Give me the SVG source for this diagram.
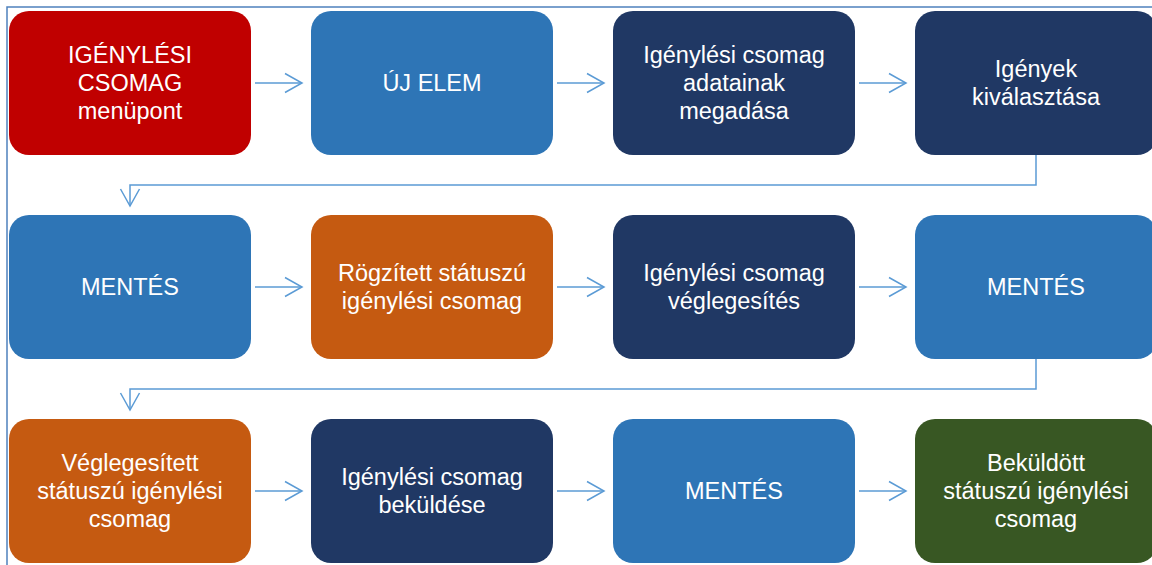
<svg xmlns="http://www.w3.org/2000/svg" width="1152" height="565" viewBox="0 0 1152 565">
<defs>
<style>
.box{stroke:none}
.red{fill:#C00000}
.blue{fill:#2E75B6}
.navy{fill:#203864}
.orange{fill:#C55A11}
.green{fill:#385723}
.t{font-family:"Liberation Sans",Arial,sans-serif;font-size:23.5px;fill:#FFFFFF;text-anchor:middle}
.c{fill:none;stroke:#5B9BD5;stroke-width:1.5}
.frame{fill:none;stroke:#4F81BD;stroke-width:1.5}
</style>
<marker id="ah" markerUnits="userSpaceOnUse" markerWidth="20" markerHeight="24" refX="18" refY="11" orient="auto">
<path d="M1,1.5 L18,11 L1,20.5" fill="none" stroke="#5B9BD5" stroke-width="1.5"/>
</marker>
</defs>
<rect x="0" y="0" width="1152" height="565" fill="#FFFFFF"/>
<path class="frame" d="M7,570 L7,7 L1160,7"/>
<g id="connectors">
<line class="c" x1="255" y1="83" x2="302" y2="83" marker-end="url(#ah)"/>
<line class="c" x1="557" y1="83" x2="604" y2="83" marker-end="url(#ah)"/>
<line class="c" x1="859" y1="83" x2="906" y2="83" marker-end="url(#ah)"/>
<path class="c" d="M1036,155 L1036,185 L130,185 L130,206" marker-end="url(#ah)"/>
<line class="c" x1="255" y1="287" x2="302" y2="287" marker-end="url(#ah)"/>
<line class="c" x1="557" y1="287" x2="604" y2="287" marker-end="url(#ah)"/>
<line class="c" x1="859" y1="287" x2="906" y2="287" marker-end="url(#ah)"/>
<path class="c" d="M1036,359 L1036,389 L130,389 L130,410" marker-end="url(#ah)"/>
<line class="c" x1="255" y1="491" x2="302" y2="491" marker-end="url(#ah)"/>
<line class="c" x1="557" y1="491" x2="604" y2="491" marker-end="url(#ah)"/>
<line class="c" x1="859" y1="491" x2="906" y2="491" marker-end="url(#ah)"/>
</g>
<g id="n1"><rect class="box red" x="9" y="11" width="242" height="144" rx="20"/><text class="t" x="130" y="63">IGÉNYLÉSI</text><text class="t" x="130" y="91">CSOMAG</text><text class="t" x="130" y="119">menüpont</text></g>
<g id="n2"><rect class="box blue" x="311" y="11" width="242" height="144" rx="20"/><text class="t" x="432" y="91">ÚJ ELEM</text></g>
<g id="n3"><rect class="box navy" x="613" y="11" width="242" height="144" rx="20"/><text class="t" x="734" y="63">Igénylési csomag</text><text class="t" x="734" y="91">adatainak</text><text class="t" x="734" y="119">megadása</text></g>
<g id="n4"><rect class="box navy" x="915" y="11" width="242" height="144" rx="20"/><text class="t" x="1036" y="77">Igények</text><text class="t" x="1036" y="105">kiválasztása</text></g>
<g id="n5"><rect class="box blue" x="9" y="215" width="242" height="144" rx="20"/><text class="t" x="130" y="295">MENTÉS</text></g>
<g id="n6"><rect class="box orange" x="311" y="215" width="242" height="144" rx="20"/><text class="t" x="432" y="281">Rögzített státuszú</text><text class="t" x="432" y="309">igénylési csomag</text></g>
<g id="n7"><rect class="box navy" x="613" y="215" width="242" height="144" rx="20"/><text class="t" x="734" y="281">Igénylési csomag</text><text class="t" x="734" y="309">véglegesítés</text></g>
<g id="n8"><rect class="box blue" x="915" y="215" width="242" height="144" rx="20"/><text class="t" x="1036" y="295">MENTÉS</text></g>
<g id="n9"><rect class="box orange" x="9" y="419" width="242" height="144" rx="20"/><text class="t" x="130" y="471">Véglegesített</text><text class="t" x="130" y="499">státuszú igénylési</text><text class="t" x="130" y="527">csomag</text></g>
<g id="n10"><rect class="box navy" x="311" y="419" width="242" height="144" rx="20"/><text class="t" x="432" y="485">Igénylési csomag</text><text class="t" x="432" y="513">beküldése</text></g>
<g id="n11"><rect class="box blue" x="613" y="419" width="242" height="144" rx="20"/><text class="t" x="734" y="499">MENTÉS</text></g>
<g id="n12"><rect class="box green" x="915" y="419" width="242" height="144" rx="20"/><text class="t" x="1036" y="471">Beküldött</text><text class="t" x="1036" y="499">státuszú igénylési</text><text class="t" x="1036" y="527">csomag</text></g>
</svg>
